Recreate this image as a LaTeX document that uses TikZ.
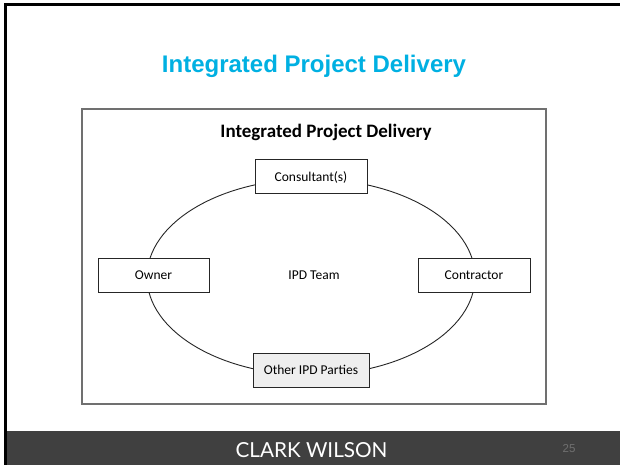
\documentclass[tikz,border=0pt]{standalone}
\usepackage{fontspec}
\setmainfont{Carlito}
\newfontfamily\arialf{Liberation Sans}
\newfontfamily\latof{Lato}
\usetikzlibrary{shapes.geometric}
\definecolor{ipdcyan}{RGB}{0,176,226}
\definecolor{bargray}{RGB}{64,64,64}
\definecolor{numgray}{RGB}{112,112,112}
\definecolor{framegray}{RGB}{112,112,112}
\definecolor{partygray}{RGB}{238,238,238}
\tikzset{
  partybox/.style={draw=black!85, line width=0.9pt, fill=white, inner sep=0pt,
    minimum height=34pt, text height=9.5pt, text depth=0pt,
    font=\fontsize{13.5}{13.5}\selectfont},
  plainlabel/.style={inner sep=0pt, text height=9.5pt, text depth=0pt,
    font=\fontsize{13.5}{13.5}\selectfont}
}
\begin{document}
\begin{tikzpicture}[x=1pt,y=-1pt]
\useasboundingbox (0,0) rectangle (620,465);
\fill[white] (0,0) rectangle (620,465);
% slide frame
\draw[line width=2.5pt, black] (5.3,466) -- (5.3,4.3) -- (621,4.3);
% bottom bar
\fill[bargray] (6.5,431) rectangle (620,465);
% title
\node[anchor=base, inner sep=0pt, text=ipdcyan,
  font=\arialf\bfseries\fontsize{24}{24}\selectfont] (title) at (314,73) {Integrated Project Delivery};
% inner diagram frame
\node[draw=framegray, line width=1.3pt, minimum width=464pt, minimum height=295pt, inner sep=0pt] (frame) at (314,256.5) {};
\node[anchor=base, inner sep=0pt, font=\bfseries\fontsize{19}{19}\selectfont] (dtitle) at (326,138) {Integrated Project Delivery};
% ring
\node[draw=black!85, line width=0.9pt, ellipse, minimum width=328pt, minimum height=196pt, inner sep=0pt] (ring) at (311,277) {};
% parties
\node[partybox, minimum width=112pt] (cons) at (311,176.5) {Consultant(s)};
\node[partybox, minimum width=111pt] (owner) at (153.5,275) {Owner};
\node[partybox, minimum width=112pt] (contr) at (474,275) {Contractor};
\node[partybox, minimum width=116pt, fill=partygray] (other) at (311,370) {Other IPD Parties};
\node[plainlabel] (team) at (314,275) {IPD Team};
% footer
\node[inner sep=0pt, text=white, font=\latof\fontsize{20.7}{20.7}\selectfont] (brand) at (311.5,450) {CLARK WILSON};
\node[inner sep=0pt, text=numgray, font=\arialf\fontsize{11.5}{11.5}\selectfont] (page) at (569,449) {25};
\end{tikzpicture}
\end{document}
